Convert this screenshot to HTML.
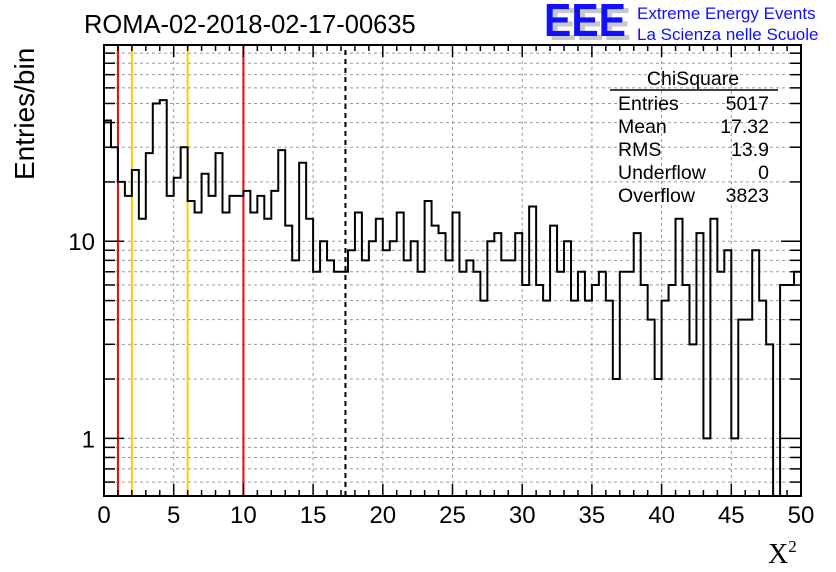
<!DOCTYPE html>
<html><head><meta charset="utf-8"><style>
body{margin:0;background:#fff;}
svg{display:block;font-family:"Liberation Sans",sans-serif;}
</style></head><body>
<svg id="chart" width="836" height="572" viewBox="0 0 836 572" xmlns="http://www.w3.org/2000/svg">
<rect width="836" height="572" fill="#fff"/>
<text x="84" y="33" font-size="25.5">ROMA-02-2018-02-17-00635</text>
<g>
<text x="549" y="40" font-size="46" font-weight="bold" fill="#c8c8c8" textLength="82" lengthAdjust="spacingAndGlyphs">EEE</text>
<text x="544" y="36" font-size="46" font-weight="bold" fill="#1010ff" textLength="82" lengthAdjust="spacingAndGlyphs">EEE</text>
<text x="637" y="19" font-size="17" fill="#1010ff">Extreme Energy Events</text>
<text x="637" y="40" font-size="17" fill="#1010ff">La Scienza nelle Scuole</text>
</g>
<g id="grid"></g>
<g id="marks"></g>
<g id="axes"></g>
<text transform="translate(34,180) rotate(-90)" font-size="28">Entries/bin</text>
<text x="768" y="563" font-size="28" font-family="Liberation Serif,serif">X<tspan font-size="17" dy="-11">2</tspan></text>
<g font-size="19.5">
<text x="693" y="85" text-anchor="middle">ChiSquare</text>
<line x1="610" y1="90" x2="778" y2="90" stroke="#000" stroke-width="1.5"/>
<text x="618" y="110">Entries</text><text x="769" y="110" text-anchor="end">5017</text>
<text x="618" y="133">Mean</text><text x="769" y="133" text-anchor="end">17.32</text>
<text x="618" y="156">RMS</text><text x="769" y="156" text-anchor="end">13.9</text>
<text x="618" y="179">Underflow</text><text x="769" y="179" text-anchor="end">0</text>
<text x="618" y="202">Overflow</text><text x="769" y="202" text-anchor="end">3823</text>
</g>
</svg>
<script>
const counts = [41,30,20,17,23,13,28,50,52,17,21,30,16,14,22,17,28,14,17,17,18,14,17,13,18,29,12,8,25,13,7,10,8,7,7,9,14,8,10,13,9,10,14,8,10,7,16,12,11,8,14,7,8,7,5,10,11,8,8,11,6,15,6,5,12,7,10,5,7,5,6,7,5,2,7,7,11,6,4,2,5,6,13,6,3,11,1,13,7,9,1,4,4,9,5,3,0,6,6,7];
const xTicks = [0,5,10,15,20,25,30,35,40,45,50];
const yTicks = [1,10];
const redLines = [1,10];
const orangeLines = [2,6];
const meanValue = [17.32];
const X0=104,X1=801,Y0=496,Y1=45, XMIN=0,XMAX=50, YMIN=0.51,YMAX=99;
const NS="http://www.w3.org/2000/svg";
const xs=v=>X0+(v-XMIN)/(XMAX-XMIN)*(X1-X0);
const ys=v=>v<=0?Y0:Y0-(Math.log10(v)-Math.log10(YMIN))/(Math.log10(YMAX)-Math.log10(YMIN))*(Y0-Y1);
function mk(tag,attrs,parent){const e=document.createElementNS(NS,tag);for(const k in attrs)e.setAttribute(k,attrs[k]);parent.appendChild(e);return e;}
const grid=document.getElementById('grid'),axes=document.getElementById('axes'),marks=document.getElementById('marks');
for(const t of xTicks){if(t===XMIN||t===XMAX)continue;const l=mk('line',{x1:xs(t),x2:xs(t),y1:Y0,y2:Y1,stroke:'#999','stroke-dasharray':'3,3'},grid);

}
const ymin=[];for(const d of [0.1,1,10]){for(let k=1;k<10;k++){const v=k*d;if(v>YMIN&&v<YMAX)ymin.push(v);}}
for(const v of ymin){const l=mk('line',{x1:X0,x2:X1,y1:ys(v),y2:ys(v),stroke:'#999','stroke-dasharray':'3,3'},grid);


const major=yTicks.includes(v);
mk('line',{x1:X0,x2:X0+(major?20:11),y1:ys(v),y2:ys(v),stroke:'#000','stroke-width':1.5},axes);
mk('line',{x1:X1,x2:X1-(major?20:11),y1:ys(v),y2:ys(v),stroke:'#000','stroke-width':1.5},axes);}
for(let v=0;v<=50;v++){const major=v%5===0;const L=major?12:6;
mk('line',{x1:xs(v),x2:xs(v),y1:Y0,y2:Y0-L,stroke:'#000','stroke-width':1.5},axes);
mk('line',{x1:xs(v),x2:xs(v),y1:Y1,y2:Y1+L,stroke:'#000','stroke-width':1.5},axes);}
for(const t of xTicks){const tx=mk('text',{x:xs(t),y:523,'font-size':24,'text-anchor':'middle'},axes);tx.textContent=t;

}
for(const t of yTicks){const tx=mk('text',{x:95,y:ys(t)+9,'font-size':24,'text-anchor':'end'},axes);tx.textContent=t;

}
for(const v of redLines){const l=mk('line',{x1:xs(v),x2:xs(v),y1:Y0,y2:Y1,stroke:'#ff0000','stroke-width':2},marks);

}
for(const v of orangeLines){const l=mk('line',{x1:xs(v),x2:xs(v),y1:Y0,y2:Y1,stroke:'#ffcc00','stroke-width':2},marks);

}
for(const v of meanValue){const l=mk('line',{x1:xs(v),x2:xs(v),y1:Y0,y2:Y1+3,stroke:'#000','stroke-width':2,'stroke-dasharray':'5,4'},marks);

}
const bw=(XMAX-XMIN)/counts.length;let d='';
counts.forEach((c,i)=>{const xa=xs(XMIN+i*bw),xb=xs(XMIN+(i+1)*bw),y=ys(c);d+=(i===0?'M'+xa+','+y:'L'+xa+','+y)+'L'+xb+','+y;});
const p=mk('path',{d:d,fill:'none',stroke:'#000','stroke-width':2,'clip-path':'url(#clip)'},marks);


const cp=mk('clipPath',{id:'clip'},document.getElementById('chart'));mk('rect',{x:X0,y:Y1,width:X1-X0,height:Y0-Y1},cp);
const fr=mk('rect',{x:X0,y:Y1,width:X1-X0,height:Y0-Y1,fill:'none',stroke:'#000','stroke-width':2},axes);


</script>
</body></html>
